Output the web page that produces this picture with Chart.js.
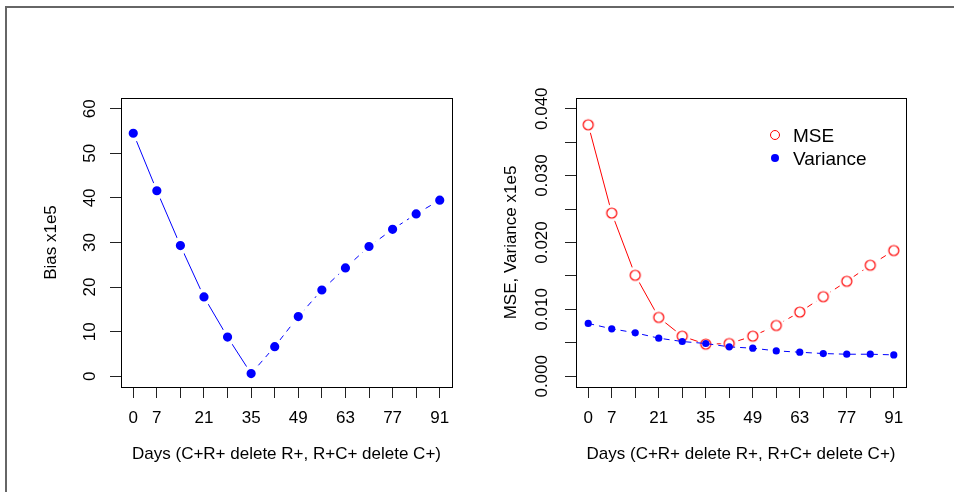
<!DOCTYPE html>
<html>
<head>
<meta charset="utf-8">
<script src="https://cdn.jsdelivr.net/npm/chart.js@4.4.0/dist/chart.umd.min.js"></script>
<style>
html, body { margin: 0; padding: 0; background: #fff; }
#wrap { position: relative; width: 954px; height: 492px; overflow: hidden; }
#frame { position: absolute; left: 5px; top: 6px; width: 980px; height: 520px; border-top: 2px solid #666; border-left: 2px solid #666; }
canvas { position: absolute; top: 0; }
#bias { left: 0; }
#mse { left: 477px; }
.leg { position: absolute; font: 19px "Liberation Sans", Arial, sans-serif; line-height: 19px; color: #000; white-space: nowrap; }
.mk { position: absolute; border-radius: 50%; box-sizing: border-box; }
</style>
</head>
<body>
<div id="wrap">
  <div id="frame"></div>
  <canvas id="bias" width="477" height="492"></canvas>
  <canvas id="mse" width="477" height="492"></canvas>
  <div class="mk" style="left:770px;top:130px;width:10px;height:10px;border:1px solid #f00;"></div>
  <div class="leg" style="left:793px;top:126px">MSE</div>
  <div class="mk" style="left:771px;top:154px;width:8px;height:8px;background:#00f;"></div>
  <div class="leg" style="left:793px;top:149px">Variance</div>
</div>
<script>
// days on the x axis, only some of them get a printed label
var days = [0, 7, 14, 21, 28, 35, 42, 49, 56, 63, 70, 77, 84, 91];
var dayLabels = [0, 7, 21, 35, 49, 63, 77, 91];

// left panel (x1e5)
var bias = [54.5, 41.6, 29.3, 17.8, 8.8, 0.6, 6.65, 13.4, 19.35, 24.3, 29.1, 32.95, 36.4, 39.5];
var biasTicks = [0, 10, 20, 30, 40, 50, 60];

// right panel (x1e5)
var mse = [0.0376, 0.0244, 0.0151, 0.0088, 0.0060, 0.0048, 0.0049, 0.0060, 0.0076, 0.0096, 0.0119, 0.0142, 0.0166, 0.0188];
var variance = [0.0079, 0.0071, 0.0065, 0.0057, 0.0052, 0.0049, 0.0044, 0.0042, 0.0038, 0.0036, 0.0034, 0.0033, 0.0033, 0.0032];
var mseTicks = [0, 0.005, 0.01, 0.015, 0.02, 0.025, 0.03, 0.035, 0.04];
var mseTickLabels = ['0.000', '0.010', '0.020', '0.030', '0.040'];

var font = { family: "'Liberation Sans', Arial, sans-serif", size: 17 };
Chart.defaults.color = '#000';

function pts(vals) {
  return days.map(function (d, i) { return { x: d, y: vals[i] }; });
}

// R style "b" lines: solid up to day 35, dashed after
var halfDash = function (ctx) { return ctx.p0DataIndex >= 5 ? [6, 5] : undefined; };

var boxPlugin = {
  id: 'box',
  afterDraw: function (chart) {
    var a = chart.chartArea, c = chart.ctx;
    c.save();
    c.strokeStyle = '#000';
    c.lineWidth = 1;
    c.strokeRect(Math.round(a.left) + 0.5, Math.round(a.top) + 0.5, Math.round(a.right - a.left), Math.round(a.bottom - a.top));
    c.restore();
  }
};

function xAxis() {
  return {
    type: 'linear', min: -3.64, max: 94.64,
    afterBuildTicks: function (s) { s.ticks = days.map(function (v) { return { value: v }; }); },
    afterFit: function (s) { s.height = 105; },
    grid: { drawOnChartArea: false, drawTicks: true, tickLength: 11, color: '#222', lineWidth: 1 },
    border: { display: false },
    ticks: {
      autoSkip: false, maxRotation: 0, minRotation: 0, padding: 10, font: font, color: '#000',
      callback: function (v) { return dayLabels.indexOf(v) >= 0 ? String(v) : ''; }
    },
    title: { display: true, text: 'Days (C+R+ delete R+, R+C+ delete C+)', font: font, color: '#000', padding: { top: 0, bottom: 27 } }
  };
}

function yAxis(min, max, tickVals, width, tickPad, titleText, titlePad, labelFn) {
  return {
    type: 'linear', min: min, max: max,
    afterBuildTicks: function (s) { s.ticks = tickVals.map(function (v) { return { value: v }; }); },
    afterFit: function (s) { s.width = width; },
    grid: { drawOnChartArea: false, drawTicks: true, tickLength: 11, color: '#222', lineWidth: 1 },
    border: { display: false },
    ticks: { autoSkip: false, minRotation: 90, maxRotation: 90, crossAlign: 'center', padding: tickPad, font: font, color: '#000', callback: labelFn },
    title: { display: true, text: titleText, font: font, color: '#000', padding: { top: titlePad, bottom: 0 } }
  };
}

// open red circle with a white halo so the line stops short of it
function ringMarker() {
  var c = document.createElement('canvas');
  c.width = 20; c.height = 20;
  var x = c.getContext('2d');
  x.fillStyle = '#fff';
  x.beginPath(); x.arc(10, 10, 8.5, 0, 2 * Math.PI); x.fill();
  x.strokeStyle = '#f00'; x.lineWidth = 1.2;
  x.beginPath(); x.arc(10, 10, 5, 0, 2 * Math.PI); x.stroke();
  return c;
}

new Chart(document.getElementById('bias').getContext('2d'), {
  type: 'line',
  data: {
    datasets: [{
      label: 'Bias',
      data: pts(bias),
      borderColor: '#0000ff',
      borderWidth: 1,
      pointRadius: 6.6,
      pointBorderWidth: 4,
      pointBorderColor: '#fff',
      pointBackgroundColor: '#0000ff',
      segment: { borderDash: halfDash }
    }]
  },
  options: {
    responsive: false, animation: false, devicePixelRatio: 1,
    layout: { padding: { left: 0, top: 98, right: 25, bottom: 0 } },
    plugins: { legend: { display: false }, tooltip: { enabled: false } },
    scales: {
      x: xAxis(),
      y: yAxis(-2.4, 62.4, biasTicks, 121, 10.5, 'Bias x1e5', 41, function (v) { return String(v); })
    }
  },
  plugins: [boxPlugin]
});

new Chart(document.getElementById('mse').getContext('2d'), {
  type: 'line',
  data: {
    datasets: [{
      label: 'MSE',
      data: pts(mse),
      borderColor: '#ff0000',
      borderWidth: 1,
      pointStyle: ringMarker(),
      segment: { borderDash: halfDash },
      order: 2
    }, {
      label: 'Variance',
      data: pts(variance),
      borderColor: '#0000ff',
      borderWidth: 1,
      borderDash: [6, 5],
      pointRadius: 3.6,
      pointBorderWidth: 0,
      pointBackgroundColor: '#0000ff',
      order: 1
    }]
  },
  options: {
    responsive: false, animation: false, devicePixelRatio: 1,
    layout: { padding: { left: 0, top: 98, right: 48, bottom: 0 } },
    plugins: { legend: { display: false }, tooltip: { enabled: false } },
    scales: {
      x: xAxis(),
      y: yAxis(-0.0016, 0.0416, mseTicks, 99, 1.5, 'MSE, Variance x1e5', 24, function (v) {
        for (var i = 0; i < mseTickLabels.length; i++) {
          if (Math.abs(parseFloat(mseTickLabels[i]) - v) < 1e-9) return mseTickLabels[i];
        }
        return '';
      })
    }
  },
  plugins: [boxPlugin]
});
</script>
</body>
</html>
